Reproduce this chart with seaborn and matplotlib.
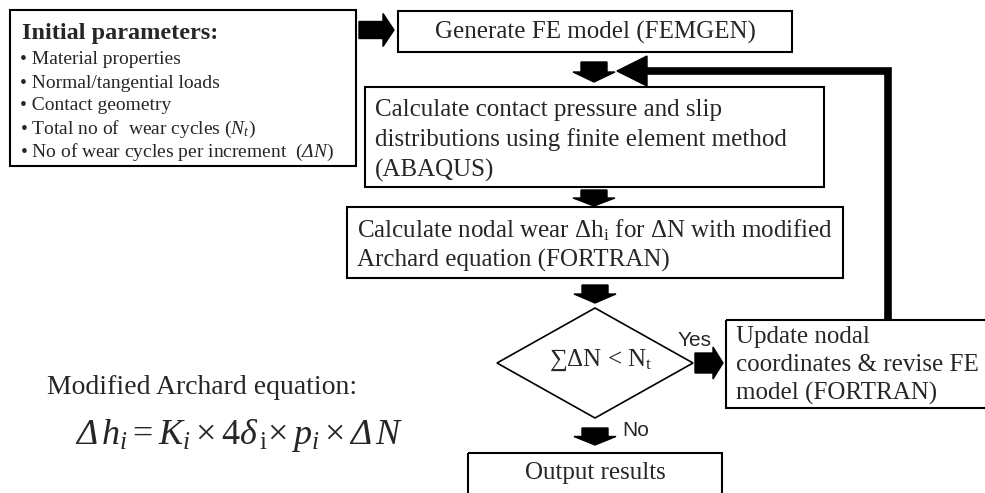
import matplotlib
matplotlib.use("Agg")
import matplotlib.pyplot as plt
import seaborn as sns
from matplotlib.patches import Rectangle, Polygon

# Text content of the flowchart
init_title = "Initial parameters:"
init_items = [
    "• Material properties",
    "• Normal/tangential loads",
    "• Contact geometry",
    "• Total no of  wear cycles ($N_t$)",
    "• No of wear cycles per increment  ($\\mathcal{Δ}\\mathit{N}$)",
]
generate_label = "Generate FE model (FEMGEN)"
calc_lines = [
    "Calculate contact pressure and slip",
    "distributions using finite element method",
    "(ABAQUS)",
]
wear_lines = [
    "Calculate nodal wear Δh$_{\\mathrm{i}}$ for ΔN with modified",
    "Archard equation (FORTRAN)",
]
check_label = "∑ΔN < N$_{\\mathrm{t}}$"
update_lines = [
    "Update nodal",
    "coordinates & revise FE",
    "model (FORTRAN)",
]
output_label = "Output results"
yes_label, no_label = "Yes", "No"
eq_caption = "Modified Archard equation:"
eq_text = ("$\\mathcal{Δ}\\,h_i = K_i \\times 4\\delta_{\\,\\mathrm{i}}\\!\\times p_i"
           " \\times \\mathcal{Δ}\\,N$")

sns.set_theme(style="white")
plt.rcParams["font.family"] = ["Liberation Serif", "DejaVu Serif"]
plt.rcParams["mathtext.fontset"] = "custom"
plt.rcParams["mathtext.rm"] = "Liberation Serif"
plt.rcParams["mathtext.it"] = "Liberation Serif:italic"
plt.rcParams["mathtext.bf"] = "Liberation Serif:bold"
# italic capital Greek (mathtext forces it upright under \mathit)
plt.rcParams["mathtext.cal"] = "Liberation Serif:italic"
plt.rcParams["mathtext.fallback"] = "stix"

fig = plt.figure(figsize=(9.85, 4.93), dpi=100)
ax = fig.add_axes([0, 0, 1, 1])
ax.set_xlim(0, 985)
ax.set_ylim(493, 0)
ax.axis("off")

LW = 1.5


def box(x0, y0, x1, y1):
    ax.add_patch(Rectangle((x0, y0), x1 - x0, y1 - y0, fill=False,
                           edgecolor="black", linewidth=LW, clip_on=True))


def down_arrow(cx, y0, y1):
    mid = (y0 + y1) / 2
    pts = [(cx - 13, y0), (cx + 13, y0), (cx + 13, mid), (cx + 21, mid),
           (cx, y1), (cx - 21, mid), (cx - 13, mid)]
    ax.add_patch(Polygon(pts, closed=True, color="black"))


def right_arrow(x0, x1, cy, body, head, head_len):
    xh = x1 - head_len
    pts = [(x0, cy - body), (xh, cy - body), (xh, cy - head), (x1, cy),
           (xh, cy + head), (xh, cy + body), (x0, cy + body)]
    ax.add_patch(Polygon(pts, closed=True, color="black"))


# initial parameters box
box(10, 10, 356, 166)
ax.text(22, 33, init_title, fontsize=17.5, fontweight="bold", va="center")
for i, item in enumerate(init_items):
    ax.text(20, 60 + i * 23, item, fontsize=14, va="center")

right_arrow(359, 394, 30, 8.5, 16.5, 11)

# main column
box(398, 11, 792, 52)
ax.text(595, 32, generate_label, fontsize=18, ha="center", va="center")
down_arrow(594, 62, 82)

box(365, 87, 824, 187)
for i, line in enumerate(calc_lines):
    ax.text(375, 110 + i * 30, line, fontsize=18, va="center")
down_arrow(594, 190, 206)

box(347, 207, 843, 278)
for i, line in enumerate(wear_lines):
    ax.text(357, 230 + i * 30, line, fontsize=18, va="center")
down_arrow(595, 285, 303)

ax.add_patch(Polygon([(595, 308), (693, 363), (595, 418), (497, 363)],
                     closed=True, fill=False, edgecolor="black", linewidth=1.2))
ax.text(601, 360, check_label, fontsize=18, ha="center", va="center")

right_arrow(695, 723, 363, 10, 16, 10)
ax.text(678, 341, yes_label, fontsize=15, family="Liberation Sans", va="center")

box(726, 320, 995, 408)
for i, line in enumerate(update_lines):
    ax.text(736, 337 + i * 28, line, fontsize=18, va="center")

down_arrow(595, 428, 445)
ax.text(622, 431, no_label, fontsize=15, family="Liberation Sans", va="center")

box(468, 453, 722, 505)
ax.text(595, 473, output_label, fontsize=18, ha="center", va="center")

# feedback loop
ax.plot([888, 888, 645], [320, 70.5, 70.5], color="black", linewidth=5.5,
        solid_joinstyle="miter", solid_capstyle="butt")
ax.add_patch(Polygon([(617, 71), (647, 56), (647, 86)], closed=True, color="black"))

# equation
ax.text(47, 388, eq_caption, fontsize=20, va="center")
ax.text(75, 435, eq_text, fontsize=26, va="center")

fig.savefig("out.png", dpi=100)
